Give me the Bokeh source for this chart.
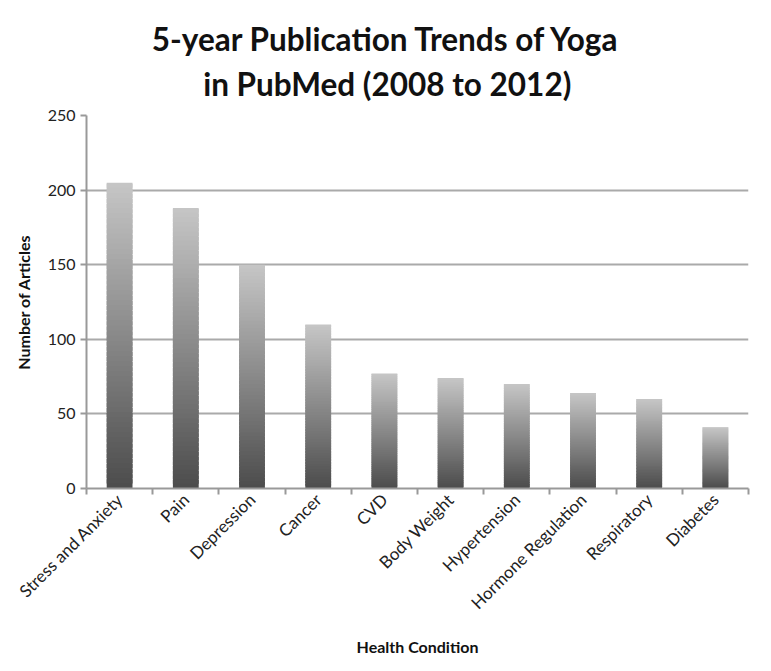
import numpy as np
from bokeh.plotting import figure
from bokeh.layouts import column
from bokeh.models import ColumnDataSource, Range1d, FixedTicker
from bokeh.core.properties import value
from bokeh.embed import file_html
from bokeh.resources import INLINE

categories = ["Stress and Anxiety", "Pain", "Depression", "Cancer", "CVD",
              "Body Weight", "Hypertension", "Hormone Regulation", "Respiratory", "Diabetes"]
articles = [205, 188, 150, 110, 77, 74, 70, 64, 60, 41]
y_ticks = [0, 50, 100, 150, 200, 250]
title_lines = ["5-year Publication Trends of Yoga", "in PubMed (2008 to 2012)"]

FONT = "Lato"
N = 60
top_rgb = np.array([198, 198, 198])
bot_rgb = np.array([76, 76, 76])

# title panel
TH = 105
pt = figure(width=755, height=TH, output_backend="svg", toolbar_location=None,
            x_range=Range1d(0, 755), y_range=Range1d(0, TH),
            x_axis_type=None, y_axis_type=None, min_border=0)
pt.outline_line_color = None
pt.grid.grid_line_color = None
pt.text(x=[342, 343], y=[TH - 38, TH - 83], text=title_lines,
        text_align="center", text_baseline="middle",
        text_font=value(FONT), text_font_size="31.5px", text_font_style="bold",
        text_color="#111111")

xs, bots, tops, cols = [], [], [], []
for i, v in enumerate(articles):
    for k in range(N):
        f = (k + 0.5) / N
        c = bot_rgb + (top_rgb - bot_rgb) * f
        xs.append(i + 0.5)
        bots.append(v * k / N)
        tops.append(v * min(k + 1.8, N) / N)
        cols.append("#%02x%02x%02x" % tuple(int(round(t)) for t in c))
src = ColumnDataSource(dict(x=xs, bottom=bots, top=tops, color=cols))

p = figure(width=755, height=655 - TH, output_backend="svg", toolbar_location=None,
           x_range=Range1d(0, len(categories)), y_range=Range1d(0, 250),
           frame_width=662, frame_height=373, title=None,
           min_border_left=86, min_border_top=115 - TH, min_border_right=7, min_border_bottom=10)
p.outline_line_color = None
p.vbar(x="x", bottom="bottom", top="top", width=0.39, source=src,
       fill_color="color", line_color=None)

centers = [i + 0.5 for i in range(len(categories))]
bounds = [float(i) for i in range(len(categories) + 1)]
p.xaxis.ticker = FixedTicker(ticks=centers, minor_ticks=bounds)
p.xaxis.major_label_overrides = {c: lab for c, lab in zip(centers, categories)}
p.xaxis.major_label_orientation = np.pi / 4
p.xaxis.major_tick_out = 0
p.xaxis.major_tick_in = 0
p.xaxis.minor_tick_out = 6
p.xaxis.minor_tick_in = 0
p.xaxis.minor_tick_line_color = "#999999"
p.xaxis.minor_tick_line_width = 2
p.xaxis.major_label_standoff = 2
p.xaxis.axis_label = "Health Condition"
p.xaxis.axis_label_standoff = 14

p.yaxis.ticker = FixedTicker(ticks=y_ticks)
p.yaxis.minor_tick_line_color = None
p.yaxis.major_tick_out = 6
p.yaxis.major_tick_in = 0
p.yaxis.major_tick_line_color = "#999999"
p.yaxis.major_tick_line_width = 2
p.yaxis.axis_label = "Number of Articles"
p.yaxis.axis_label_standoff = 12

for ax in (p.xaxis, p.yaxis):
    ax.axis_line_color = "#999999"
    ax.axis_line_width = 2
    ax.major_label_text_font = FONT
    ax.major_label_text_color = "#222222"
    ax.axis_label_text_font = FONT
    ax.axis_label_text_font_size = "16px"
    ax.axis_label_text_font_style = "bold"
    ax.axis_label_text_color = "#111111"
p.xaxis.major_label_text_font_size = "17px"
p.yaxis.major_label_text_font_size = "16px"

p.xgrid.grid_line_color = None
p.ygrid.ticker = FixedTicker(ticks=y_ticks)
p.ygrid.grid_line_color = "#aaaaaa"
p.ygrid.grid_line_width = 2

layout = column(pt, p, spacing=0)
open("out.html", "w").write(file_html(layout, INLINE))
